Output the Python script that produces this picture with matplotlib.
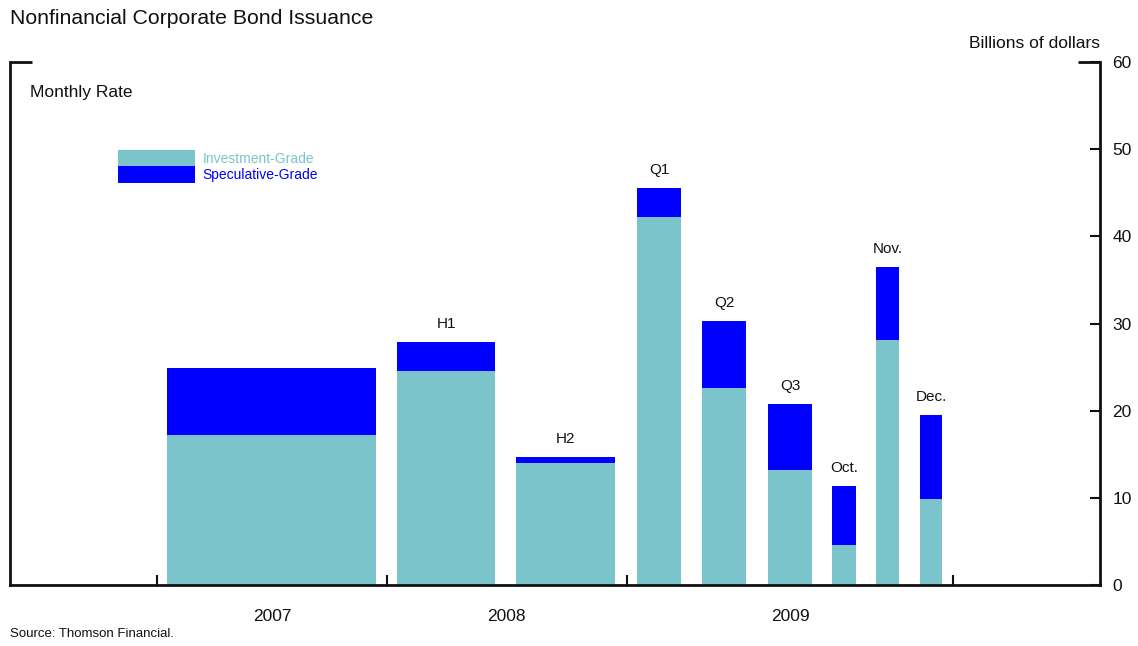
import matplotlib.pyplot as plt
from matplotlib.patches import Patch

plt.rcParams['font.family'] = ['Liberation Sans', 'DejaVu Sans']

# data (billions of dollars, monthly rate)
periods = ["2007", "H1", "H2", "Q1", "Q2", "Q3", "Oct.", "Nov.", "Dec."]
investment_grade = [17.2, 24.5, 14.0, 42.2, 22.6, 13.2, 4.6, 28.1, 9.9]
speculative_grade = [7.7, 3.4, 0.7, 3.3, 7.7, 7.6, 6.8, 8.4, 9.6]
bar_labels = ["", "H1", "H2", "Q1", "Q2", "Q3", "Oct.", "Nov.", "Dec."]
years = ["2007", "2008", "2009"]

# layout (x axis in pixel-like units)
centers = [271.5, 446, 565.5, 659, 724, 790, 844, 887.5, 931]
widths = [209, 98, 99, 44, 44, 44, 24, 23, 22]
year_pos = [272, 506, 790]
year_breaks = [157, 387, 627, 953]

teal = "#7bc4cc"
blue = "#0000ff"
ink = "#111111"

W, H = 1138, 646
fig = plt.figure(figsize=(W / 100, H / 100), dpi=100)
ax = fig.add_axes([10 / W, (H - 585) / H, 1090 / W, 523 / H])
ax.set_xlim(10, 1100)
ax.set_ylim(0, 60)

ax.bar(centers, investment_grade, width=widths, color=teal, linewidth=0)
ax.bar(centers, speculative_grade, width=widths, bottom=investment_grade,
       color=blue, linewidth=0)

for c, ig, sg, lab in zip(centers, investment_grade, speculative_grade, bar_labels):
    if lab:
        ax.annotate(lab, (c, ig + sg), xytext=(0, 8), textcoords="offset points",
                    ha="center", va="bottom", fontsize=11, color=ink)

# spines
ax.spines["top"].set_visible(False)
for s in ["left", "right", "bottom"]:
    ax.spines[s].set_linewidth(2)
    ax.spines[s].set_color(ink)

ax.plot([10, 32], [60, 60], color=ink, lw=2, clip_on=False, solid_capstyle="butt")
ax.plot([1078, 1100], [60, 60], color=ink, lw=2, clip_on=False, solid_capstyle="butt")

# y axis on the right
ax.yaxis.tick_right()
ax.set_yticks(range(0, 61, 10))
ax.tick_params(axis="y", direction="in", length=7, width=1.5, pad=9,
               labelsize=12.5, colors=ink)

# x axis: break ticks and year labels
ax.set_xticks(year_breaks)
ax.set_xticklabels([])
ax.tick_params(axis="x", which="major", direction="in", length=7, width=1.5, color=ink)
ax.set_xticks(year_pos, minor=True)
ax.set_xticklabels(years, minor=True)
ax.tick_params(axis="x", which="minor", length=0, pad=17, labelsize=12.5, labelcolor=ink)

# legend
handles = [Patch(facecolor=teal, edgecolor="none"), Patch(facecolor=blue, edgecolor="none")]
leg = ax.legend(handles, ["Investment-Grade", "Speculative-Grade"],
                loc="upper left", bbox_to_anchor=((118 - 10) / 1090, (585 - 150) / 523),
                frameon=False, fontsize=10, handlelength=5.55, handleheight=1.45,
                labelspacing=0, handletextpad=0.55, borderpad=0, borderaxespad=0,
                labelcolor=[teal, blue])

# texts
fig.text(10 / W, 1 - 18 / H, "Nonfinancial Corporate Bond Issuance", fontsize=15.3,
         color=ink, va="center", ha="left")
fig.text(30 / W, 1 - 92 / H, "Monthly Rate", fontsize=12.5, color=ink, va="center")
fig.text(1100 / W, 1 - 44 / H, "Billions of dollars", fontsize=12.5, color=ink,
         va="center", ha="right")
fig.text(10 / W, 1 - 634 / H, "Source: Thomson Financial.", fontsize=9.5, color=ink,
         va="center")

fig.savefig("out.png", dpi=100)
